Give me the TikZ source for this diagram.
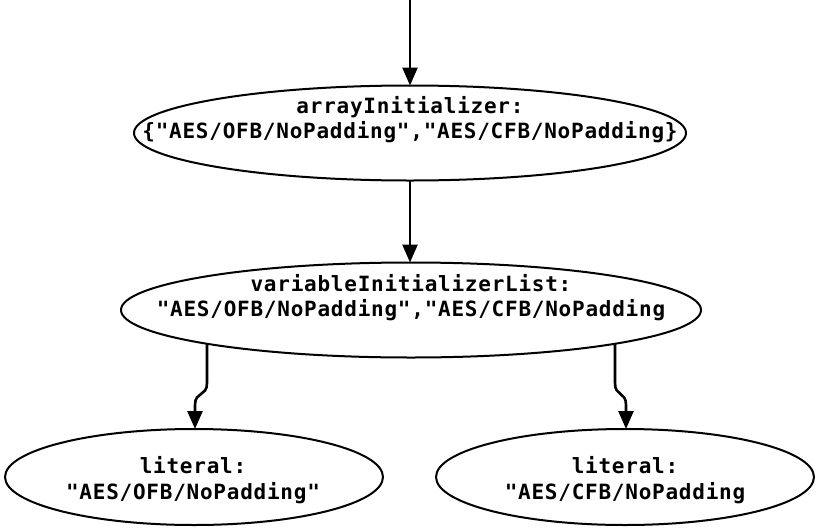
\documentclass[tikz,border=0pt]{standalone}
\usepackage{fontspec}
\usetikzlibrary{shapes.geometric,arrows.meta,calc}
\newfontfamily\lblfont{DejaVu Sans Mono}[LetterSpace=3.6]
\begin{document}
\begin{tikzpicture}[x=1pt,y=-1pt,
  ell/.style={draw,ellipse,line width=2pt,inner sep=0pt,outer sep=0pt},
  txt/.style={anchor=base,inner sep=0pt,font=\lblfont\bfseries\fontsize{21}{25}\selectfont},
  conn/.style={line width=2.6pt,-{Triangle[length=18pt,width=15pt]}}]
\useasboundingbox (0,0) rectangle (820,528);
% ellipses
\node[ell,minimum width=552pt,minimum height=95pt] (a) at (410,133) {};
\node[ell,minimum width=580pt,minimum height=95pt] (b) at (411,310) {};
\node[ell,minimum width=378pt,minimum height=96pt] (c) at (194,477) {};
\node[ell,minimum width=378pt,minimum height=96pt] (d) at (625,477) {};
% labels
\node[txt] (a1) at (410,113.5) {arrayInitializer:};
\node[txt] (a2) at (410,138.5) {\{"AES/OFB/NoPadding","AES/CFB/NoPadding\}};
\node[txt] (b1) at (411,291) {variableInitializerList:};
\node[txt] (b2) at (411,316) {"AES/OFB/NoPadding","AES/CFB/NoPadding};
\node[txt] (c1) at (193,473.5) {literal:};
\node[txt] (c2) at (193,499) {"AES/OFB/NoPadding"};
\node[txt] (d1) at (625,473.5) {literal:};
\node[txt] (d2) at (625,499) {"AES/CFB/NoPadding};
% connectors
\coordinate (top) at (410,0);
\draw[conn] (top) -- (top |- a.north);
\draw[conn] (a.south) -- (a.south |- b.north);
\coordinate (bl0) at ($(b.center)+(-204,33.5)$);
\coordinate (bl1) at ($(b.center)+(-204,73)$);
\coordinate (cl1) at (195,405);
\draw[conn] (bl0) -- (bl1) .. controls ($(bl1)+(0,14)$) and ($(cl1)+(0,-14)$) .. (cl1) -- (cl1 |- c.north);
\coordinate (br0) at ($(b.center)+(204,33.5)$);
\coordinate (br1) at ($(b.center)+(204,73)$);
\coordinate (dr1) at (626,405);
\draw[conn] (br0) -- (br1) .. controls ($(br1)+(0,14)$) and ($(dr1)+(0,-14)$) .. (dr1) -- (dr1 |- d.north);
\end{tikzpicture}
\end{document}
